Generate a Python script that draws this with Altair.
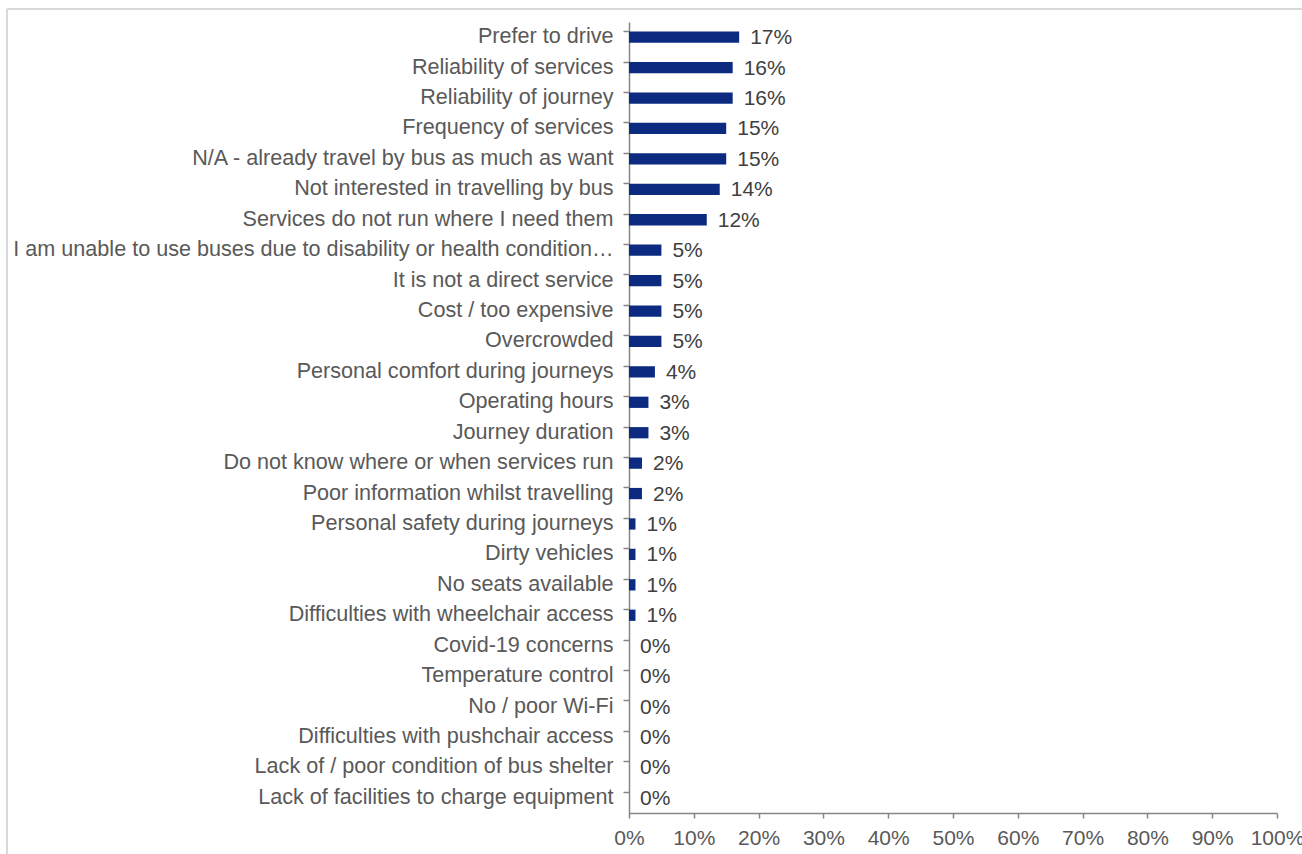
import altair as alt
import pandas as pd

categories = [
    "Prefer to drive",
    "Reliability of services",
    "Reliability of journey",
    "Frequency of services",
    "N/A - already travel by bus as much as want",
    "Not interested in travelling by bus",
    "Services do not run where I need them",
    "I am unable to use buses due to disability or health condition…",
    "It is not a direct service",
    "Cost / too expensive",
    "Overcrowded",
    "Personal comfort during journeys",
    "Operating hours",
    "Journey duration",
    "Do not know where or when services run",
    "Poor information whilst travelling",
    "Personal safety during journeys",
    "Dirty vehicles",
    "No seats available",
    "Difficulties with wheelchair access",
    "Covid-19 concerns",
    "Temperature control",
    "No / poor Wi-Fi",
    "Difficulties with pushchair access",
    "Lack of / poor condition of bus shelter",
    "Lack of facilities to charge equipment",
]
values = [17, 16, 16, 15, 15, 14, 12, 5, 5, 5, 5, 4, 3, 3, 2, 2, 1, 1, 1, 1, 0, 0, 0, 0, 0, 0]
x_ticks = [0, 0.1, 0.2, 0.3, 0.4, 0.5, 0.6, 0.7, 0.8, 0.9, 1.0]

df = pd.DataFrame({"cat": categories, "pct": values})
df["share"] = df["pct"] / 100
df["label"] = df["pct"].astype(str) + "%"

W, H = 648, 791
TEXT = "#595959"
AXIS = "#868686"
BAR = "#0B2A80"
FONT = "Liberation Sans"
FS = 21

y_enc = alt.Y(
    "cat:N",
    sort=categories,
    scale=alt.Scale(paddingInner=0.63, paddingOuter=0.315),
    axis=alt.Axis(
        title=None,
        bandPosition=0,
        tickSize=6,
        tickColor=AXIS,
        domainColor=AXIS,
        domainWidth=1.5,
        tickWidth=1.5,
        labelPadding=10,
        labelFontSize=21.6,
        labelFont=FONT,
        labelColor=TEXT,
        labelLimit=700,
        labelOverlap=False,
    ),
)
x_enc = alt.X(
    "share:Q",
    scale=alt.Scale(domain=[0, 1], nice=False),
    axis=alt.Axis(
        title=None,
        values=x_ticks,
        format=".0%",
        grid=False,
        tickSize=5,
        tickColor=AXIS,
        domainColor=AXIS,
        domainWidth=1.5,
        tickWidth=1.5,
        labelPadding=9,
        labelFontSize=FS,
        labelFont=FONT,
        labelColor=TEXT,
        labelFlush=False,
        labelOverlap=False,
    ),
)

bars = alt.Chart(df).mark_bar(color=BAR).encode(y=y_enc, x=x_enc)
texts = alt.Chart(df).mark_text(
    align="left", baseline="middle", dx=11, dy=1, fontSize=FS, font=FONT, color="#404040"
).encode(y=alt.Y("cat:N", sort=categories), x=alt.X("share:Q"), text="label:N")

frame_left = alt.Chart(df).mark_rule(color="#d9d9d9", strokeWidth=1.5).encode(
    x=alt.value(-622), y=alt.value(-13), y2=alt.value(H + 41)
)
frame_top = alt.Chart(df).mark_rule(color="#d9d9d9", strokeWidth=1.5).encode(
    x=alt.value(-622), x2=alt.value(W + 25), y=alt.value(-13)
)

chart = (
    alt.layer(frame_left, frame_top, bars, texts)
    .properties(
        width=W,
        height=H,
        autosize=alt.AutoSizeParams(type="none"),
        padding={"left": 629, "top": 22, "right": 25, "bottom": 41},
        view=alt.ViewBackground(stroke="transparent", strokeWidth=0),
    )
    .configure_view(stroke="transparent", strokeWidth=0)
    .configure(background="white")
)

chart.save("out.html", embed_options={"renderer": "svg", "actions": False})
